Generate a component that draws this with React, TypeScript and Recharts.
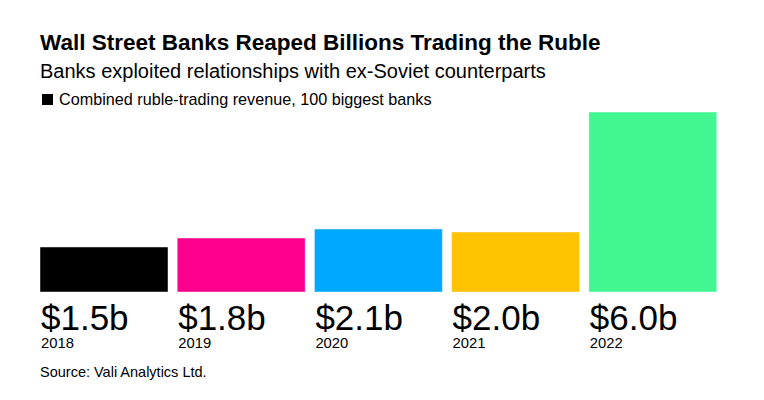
import React from "react";
import { BarChart, Bar, XAxis, YAxis, Cell, LabelList } from "recharts";

const years = ["2018", "2019", "2020", "2021", "2022"];
const revenue = [1.5, 1.8, 2.1, 2.0, 6.0];
const valueLabels = ["$1.5b", "$1.8b", "$2.1b", "$2.0b", "$6.0b"];
const colors = ["#000000", "#ff008c", "#00a9ff", "#ffc200", "#42f791"];

const data = years.map((y, i) => ({ year: y, value: revenue[i], label: valueLabels[i] }));

const FONT = "'Liberation Sans', Arial, Helvetica, sans-serif";

const renderLabel = (props: any) => {
  const { x, y, height, index } = props;
  const bx = Number(x);
  const bottom = Number(y) + Number(height);
  return (
    <g>
      <text x={bx + 1} y={bottom + 38} fontSize={35} fill="#000" fontFamily={FONT}>
        {valueLabels[index]}
      </text>
      <text x={bx + 1} y={bottom + 55.5} fontSize={14.8} fill="#000" fontFamily={FONT}>
        {years[index]}
      </text>
    </g>
  );
};

export default function App() {
  return (
    <div style={{ position: "absolute", left: 0, top: 0, width: 764, height: 400, background: "#fff" }}>
      <BarChart
        width={764}
        height={400}
        data={data}
        margin={{ top: 112, right: 43, bottom: 108, left: 35 }}
        style={{ position: "absolute", left: 0, top: 0 }}
      >
        <XAxis dataKey="year" hide />
        <YAxis domain={[0, 6]} hide />
        <Bar dataKey="value" barSize={128} isAnimationActive={false} stroke="rgba(255,255,255,0.45)" strokeWidth={1}>
          {data.map((d, i) => (
            <Cell key={d.year} fill={colors[i]} />
          ))}
          <LabelList dataKey="label" content={renderLabel} />
        </Bar>
      </BarChart>
      <svg width={764} height={400} style={{ position: "absolute", left: 0, top: 0, pointerEvents: "none" }}>
        <text x={40} y={49.5} fontSize={22.5} fontWeight="bold" fontFamily={FONT} fill="#000">
          Wall Street Banks Reaped Billions Trading the Ruble
        </text>
        <text x={40} y={77.7} fontSize={20} fontFamily={FONT} fill="#000">
          Banks exploited relationships with ex-Soviet counterparts
        </text>
        <rect x={42} y={94} width={11} height={11} fill="#000" />
        <text x={59} y={105} fontSize={16.2} fontFamily={FONT} fill="#000">
          Combined ruble-trading revenue, 100 biggest banks
        </text>
        <text x={40} y={377} fontSize={14.5} fontFamily={FONT} fill="#000">
          Source: Vali Analytics Ltd.
        </text>
      </svg>
    </div>
  );
}
